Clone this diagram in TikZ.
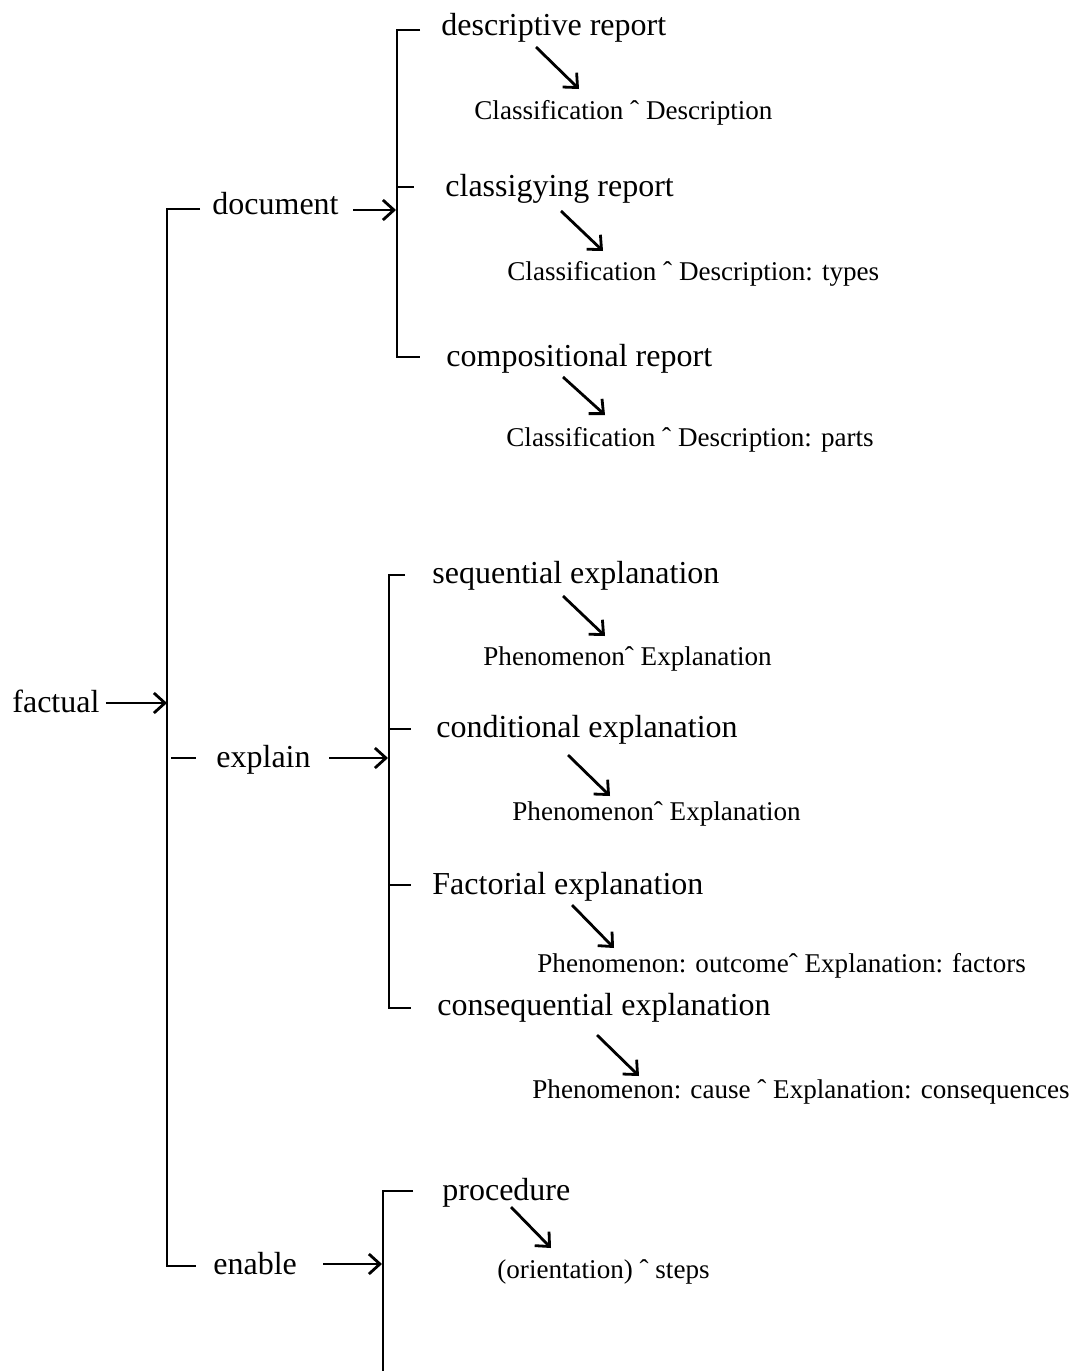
\documentclass[tikz,border=0pt]{standalone}
\usepackage{fontspec}
\setmainfont{Liberation Serif}
\usetikzlibrary{arrows.meta}
\begin{document}
\begin{tikzpicture}[x=0.5pt,y=-0.5pt,
  big/.style={font=\fontsize{16}{19}\selectfont, inner sep=0pt, anchor=base west},
  small/.style={font=\fontsize{13.55}{16}\selectfont, inner sep=0pt, anchor=base west},
  ln/.style={line width=1.4pt, line cap=butt, line join=miter},
  arr/.style={ln, -{Straight Barb[length=5.5pt,width=10pt,line width=1.4pt]}}]
\useasboundingbox (0,0) rectangle (1080,1371);

% ---- level 0 / 1 labels
\node[big] (factual) at (12,712) {factual};
\node[big] (document) at (212,214) {document};
\node[big] (explain) at (216,767) {explain};
\node[big] (enable) at (213,1274) {enable};

% ---- main bracket
\coordinate (mT) at (167,209);
\coordinate (mB) at (167,1266);
\coordinate (mA) at (167,703);
\draw[ln] (200,209) -- (mT) -- (mB) -- (196,1266);
\draw[ln] (171,758) -- (196,758);
\draw[arr] (factual.east |- mA) ++(6,0) -- (mA);

% ---- document group
\node[big] (h1) at (441,35) {descriptive report};
\node[small] (s1) at (474,119) {Classification ˆ Description};
\node[big] (h2) at (445,196) {classigying report};
\node[small] (s2) at (507,280) {Classification ˆ Description: types};
\node[big] (h3) at (446,366) {compositional report};
\node[small] (s3) at (506,446) {Classification ˆ Description: parts};

\coordinate (dA) at (396,210);
\draw[ln] (420,30) -- (397,30) -- (397,357) -- (420,357);
\draw[ln] (397,187) -- (414,187);
\draw[arr] (353,210) -- (dA);

\coordinate (a1s) at (536,47);  \coordinate (a1e) at (579,89);
\coordinate (a2s) at (561,211); \coordinate (a2e) at (603,251);
\coordinate (a3s) at (563,377); \coordinate (a3e) at (605,415);
\draw[arr] (a1s) -- (a1e);
\draw[arr] (a2s) -- (a2e);
\draw[arr] (a3s) -- (a3e);

% ---- explain group
\node[big] (h4) at (432,583) {sequential explanation};
\node[small] (s4) at (483,665) {Phenomenonˆ Explanation};
\node[big] (h5) at (436,737) {conditional explanation};
\node[small] (s5) at (512,820) {Phenomenonˆ Explanation};
\node[big] (h6) at (432,894) {Factorial explanation};
\node[small] (s6) at (537,972) {Phenomenon: outcomeˆ Explanation: factors};
\node[big] (h7) at (437,1015) {consequential explanation};
\node[small] (s7) at (532,1098) {Phenomenon: cause ˆ Explanation: consequences};

\coordinate (eA) at (388,758);
\draw[ln] (405,575) -- (389,575) -- (389,1008) -- (411,1008);
\draw[ln] (389,729) -- (411,729);
\draw[ln] (389,885) -- (411,885);
\draw[arr] (329,758) -- (eA);

\coordinate (a4s) at (563,596);  \coordinate (a4e) at (605,636);
\coordinate (a5s) at (568,755);  \coordinate (a5e) at (610,796);
\coordinate (a6s) at (572,905);  \coordinate (a6e) at (614,948);
\coordinate (a7s) at (597,1035); \coordinate (a7e) at (639,1076);
\draw[arr] (a4s) -- (a4e);
\draw[arr] (a5s) -- (a5e);
\draw[arr] (a6s) -- (a6e);
\draw[arr] (a7s) -- (a7e);

% ---- enable group
\node[big] (h8) at (442,1200) {procedure};
\node[small] (s8) at (497,1278) {(orientation) ˆ steps};

\coordinate (nA) at (382,1264);
\draw[ln] (413,1191) -- (383,1191) -- (383,1371);
\draw[arr] (323,1264) -- (nA);

\coordinate (a8s) at (511,1207); \coordinate (a8e) at (551,1248);
\draw[arr] (a8s) -- (a8e);
\end{tikzpicture}
\end{document}
